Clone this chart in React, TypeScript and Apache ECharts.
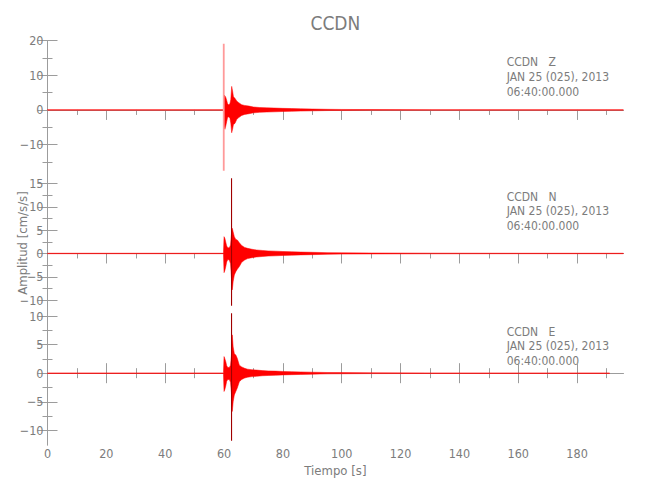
import React, { useEffect, useRef } from "react";
import * as echarts from "echarts";

// ---- data ----
const TIME_MAX = 195.7;
const xMajorTicks = [0, 20, 40, 60, 80, 100, 120, 140, 160, 180];
const xMinorTicks = [10, 30, 50, 70, 90, 110, 130, 150, 170, 190];

const stationName = "CCDN";
const componentNames = ["Z", "N", "E"];
const dateLine = "JAN 25 (025), 2013";
const timeLine = "06:40:00.000";
const xTitle = "Tiempo [s]";
const yTitle = "Amplitud [cm/s/s]";

// Z component envelope
const zTime = [0, 20, 40, 59.8, 60.0, 60.3, 60.6, 60.9, 61.2, 61.6, 62.0, 62.3, 62.6, 62.9, 63.2, 63.7, 64.3, 65.0, 66.0, 67.0, 68.5, 70.0, 72.0, 74.5, 77.0, 80.0, 83.0, 86.0, 90.0, 95.0, 100.0, 110.0, 130.0, 160.0, 195.7];
const zUpper = [0.06, 0.06, 0.06, 0.08, 4.3, 4.1, 3.6, 2.8, 1.8, 1.5, 1.8, 3.0, 6.8, 5.5, 3.8, 3.4, 2.6, 2.1, 1.5, 1.3, 1.1, 0.85, 0.7, 0.6, 0.55, 0.45, 0.4, 0.32, 0.26, 0.18, 0.14, 0.1, 0.07, 0.06, 0.06];
const zLower = [-0.06, -0.06, -0.06, -0.08, -4.8, -5.6, -4.6, -3.4, -2.2, -2.0, -2.4, -3.8, -6.6, -5.6, -4.2, -3.9, -2.8, -2.2, -1.6, -1.3, -1.1, -0.85, -0.7, -0.6, -0.55, -0.45, -0.4, -0.32, -0.26, -0.18, -0.14, -0.1, -0.07, -0.06, -0.06];
const zSpike = [59.9, 19.1, -17.6];
const zRange = [-18.8, 20];
const zMajor = [-10, 0, 10, 20];
const zMinor = [-15, -5, 5, 15];

// N component envelope
const nTime = [0, 30, 59.8, 60.0, 60.3, 60.6, 60.9, 61.3, 61.8, 62.2, 62.5, 62.8, 63.1, 63.5, 64.0, 64.5, 65.2, 66.0, 67.0, 68.0, 69.5, 71.0, 73.0, 75.0, 77.5, 80.0, 83.0, 86.0, 90.0, 95.0, 100.0, 110.0, 130.0, 160.0, 195.7];
const nUpper = [0.05, 0.05, 0.05, 3.6, 3.2, 2.4, 1.6, 1.2, 1.2, 1.8, 4.0, 5.4, 4.6, 3.6, 3.0, 2.9, 2.3, 1.7, 1.3, 1.1, 0.9, 0.75, 0.65, 0.55, 0.5, 0.42, 0.36, 0.3, 0.25, 0.18, 0.13, 0.1, 0.07, 0.05, 0.05];
const nLower = [-0.05, -0.05, -0.05, -4.1, -3.6, -2.8, -1.8, -1.3, -1.4, -2.2, -5.0, -7.8, -6.0, -4.6, -3.9, -3.4, -2.8, -1.9, -1.4, -1.1, -0.9, -0.75, -0.65, -0.55, -0.5, -0.42, -0.36, -0.3, -0.25, -0.18, -0.13, -0.1, -0.07, -0.05, -0.05];
const nSpike = [62.55, 16.1, -11.2];
const nRange = [-12.1, 16.8];
const nMajor = [-10, -5, 0, 5, 10, 15];
const nMinor = [-7.5, -2.5, 2.5, 7.5, 12.5];

// E component envelope
const eTime = [0, 30, 59.8, 60.0, 60.3, 60.6, 60.9, 61.3, 61.8, 62.2, 62.5, 62.8, 63.1, 63.5, 64.0, 64.5, 65.2, 66.0, 67.0, 68.0, 69.5, 71.0, 73.0, 75.0, 77.5, 80.0, 83.0, 86.0, 90.0, 95.0, 100.0, 110.0, 130.0, 160.0, 191.0];
const eUpper = [0.05, 0.05, 0.05, 2.9, 2.5, 2.0, 1.3, 1.0, 1.0, 1.4, 3.0, 6.7, 4.6, 3.4, 3.2, 2.6, 1.4, 1.1, 0.85, 0.7, 0.6, 0.55, 0.45, 0.4, 0.36, 0.3, 0.26, 0.22, 0.17, 0.12, 0.1, 0.07, 0.05, 0.05, 0.05];
const eLower = [-0.05, -0.05, -0.05, -3.2, -2.8, -2.2, -1.4, -1.1, -1.1, -1.6, -3.4, -6.7, -5.0, -3.8, -3.2, -2.6, -1.5, -1.1, -0.85, -0.7, -0.6, -0.55, -0.45, -0.4, -0.36, -0.3, -0.26, -0.22, -0.17, -0.12, -0.1, -0.07, -0.05, -0.05, -0.05];
const eSpike = [62.55, 10.5, -11.8];
const eRange = [-12.56, 11.05];
const eMajor = [-10, -5, 0, 5, 10];
const eMinor = [-7.5, -2.5, 2.5, 7.5];

// ---- styling / layout ----
const AXIS_COLOR = "#9c9c9c";
const LABEL_COLOR = "#7c7c7c";
const TRACE = "#ff0000";
const FONT = "'Liberation Sans Narrow', 'DejaVu Sans Condensed', 'Liberation Sans', sans-serif";
const GRID_LEFT = 47.5;
const GRID_RIGHT = 26.7;
const PANEL_TOPS = [40.7, 175, 310];
const PANEL_BOTTOMS = [175, 310, 445];

const panels = [
  { time: zTime, upper: zUpper, lower: zLower, spike: zSpike, range: zRange, major: zMajor, minor: zMinor, spikeColor: "#ff9a9a", spikeWidth: 1.8 },
  { time: nTime, upper: nUpper, lower: nLower, spike: nSpike, range: nRange, major: nMajor, minor: nMinor, spikeColor: "#a00000", spikeWidth: 1.1 },
  { time: eTime, upper: eUpper, lower: eLower, spike: eSpike, range: eRange, major: eMajor, minor: eMinor, spikeColor: "#a00000", spikeWidth: 1.1 },
];

const fmt = (v: number) => (v < 0 ? "\u2212" + String(-v) : String(v));

function buildOption() {
  const grid: any[] = [];
  const xAxis: any[] = [];
  const yAxis: any[] = [];
  const series: any[] = [];
  const graphic: any[] = [];

  panels.forEach((p, i) => {
    grid.push({
      left: GRID_LEFT,
      right: GRID_RIGHT,
      top: PANEL_TOPS[i],
      height: PANEL_BOTTOMS[i] - PANEL_TOPS[i],
      containLabel: false,
    });
    const isLast = i === panels.length - 1;
    const xBase = {
      type: "value",
      gridIndex: i,
      min: 0,
      max: TIME_MAX,
      splitLine: { show: false },
    };
    xAxis.push({
      ...xBase,
      position: "bottom",
      axisLine: { show: true, lineStyle: { color: AXIS_COLOR, width: 1 } },
      axisTick: { show: isLast, inside: true, length: 10, customValues: xMajorTicks, lineStyle: { color: AXIS_COLOR } },
      axisLabel: {
        show: isLast,
        customValues: xMajorTicks,
        color: LABEL_COLOR,
        fontFamily: FONT,
        fontSize: 12.5,
        margin: 2,
        formatter: (v: number) => fmt(v),
      },
    });
    xAxis.push({
      ...xBase,
      position: "bottom",
      axisLine: { show: false },
      axisTick: { show: isLast, inside: true, length: 5, customValues: xMinorTicks, lineStyle: { color: AXIS_COLOR } },
      axisLabel: { show: false },
    });
    xAxis.push({
      ...xBase,
      position: "top",
      axisLine: { show: true, lineStyle: { color: AXIS_COLOR, width: 1 } },
      axisTick: { show: true, inside: true, length: 10, customValues: xMajorTicks, lineStyle: { color: AXIS_COLOR } },
      axisLabel: { show: false },
    });
    xAxis.push({
      ...xBase,
      position: "top",
      axisLine: { show: false },
      axisTick: { show: true, inside: true, length: 5, customValues: xMinorTicks, lineStyle: { color: AXIS_COLOR } },
      axisLabel: { show: false },
    });

    const yBase = {
      type: "value",
      gridIndex: i,
      min: p.range[0],
      max: p.range[1],
      splitLine: { show: false },
    };
    yAxis.push({
      ...yBase,
      position: "left",
      axisLine: { show: true, lineStyle: { color: AXIS_COLOR, width: 1 } },
      axisTick: { show: true, inside: true, length: 10, customValues: p.major, lineStyle: { color: AXIS_COLOR } },
      axisLabel: {
        show: true,
        customValues: p.major,
        color: LABEL_COLOR,
        fontFamily: FONT,
        fontSize: 12.5,
        margin: 4,
        formatter: (v: number) => fmt(v),
      },
    });
    yAxis.push({
      ...yBase,
      position: "left",
      axisLine: { show: false },
      axisTick: { show: true, inside: true, length: 5, customValues: p.minor, lineStyle: { color: AXIS_COLOR } },
      axisLabel: { show: false },
    });
    yAxis.push({
      ...yBase,
      position: "right",
      axisLine: { show: true, lineStyle: { color: AXIS_COLOR, width: 1 } },
      axisTick: { show: true, inside: true, length: 10, customValues: p.major, lineStyle: { color: AXIS_COLOR } },
      axisLabel: { show: false },
    });
    yAxis.push({
      ...yBase,
      position: "right",
      axisLine: { show: false },
      axisTick: { show: true, inside: true, length: 5, customValues: p.minor, lineStyle: { color: AXIS_COLOR } },
      axisLabel: { show: false },
    });

    const xi = i * 4;
    const yi = i * 4;

    // envelope drawn as one filled polygon through the axis scales
    series.push({
      type: "custom",
      coordinateSystem: "cartesian2d",
      xAxisIndex: xi,
      yAxisIndex: yi,
      silent: true,
      clip: true,
      data: [0],
      renderItem: (_params: any, api: any) => {
        const pts: number[][] = [];
        for (let k = 0; k < p.time.length; k++) pts.push(api.coord([p.time[k], p.upper[k]]));
        for (let k = p.time.length - 1; k >= 0; k--) pts.push(api.coord([p.time[k], p.lower[k]]));
        return {
          type: "polygon",
          shape: { points: pts },
          style: { fill: TRACE, stroke: TRACE, lineWidth: 0.5 },
        };
      },
    });
    series.push({
      type: "line",
      xAxisIndex: xi,
      yAxisIndex: yi,
      symbol: "none",
      silent: true,
      lineStyle: { color: p.spikeColor, width: p.spikeWidth },
      data: [
        [p.spike[0], p.spike[1]],
        [p.spike[0], p.spike[2]],
      ],
    });

    const lines = [stationName + "   " + componentNames[i], dateLine, timeLine];
    lines.forEach((txt, k) => {
      graphic.push({
        type: "text",
        x: 506.7,
        y: PANEL_TOPS[i] + 21.5 + k * 14.8,
        silent: true,
        style: {
          text: txt,
          fill: LABEL_COLOR,
          fontFamily: FONT,
          fontSize: 12,
          textAlign: "left",
          textVerticalAlign: "middle",
        },
      });
    });
  });

  graphic.push({
    type: "text",
    x: 335.4,
    y: 22.7,
    silent: true,
    style: {
      text: stationName,
      fill: LABEL_COLOR,
      fontFamily: FONT,
      fontSize: 19,
      textAlign: "center",
      textVerticalAlign: "middle",
    },
  });
  graphic.push({
    type: "text",
    x: 335.4,
    y: 470,
    silent: true,
    style: {
      text: xTitle,
      fill: LABEL_COLOR,
      fontFamily: FONT,
      fontSize: 13,
      textAlign: "center",
      textVerticalAlign: "middle",
    },
  });
  graphic.push({
    type: "text",
    x: 22,
    y: 243,
    rotation: Math.PI / 2,
    silent: true,
    style: {
      text: yTitle,
      fill: LABEL_COLOR,
      fontFamily: FONT,
      fontSize: 13,
      textAlign: "center",
      textVerticalAlign: "middle",
    },
  });

  return {
    animation: false,
    backgroundColor: "#ffffff",
    grid,
    xAxis,
    yAxis,
    series,
    graphic,
  };
}

export default function App() {
  const ref = useRef<HTMLDivElement>(null);
  useEffect(() => {
    if (!ref.current) return;
    const chart = echarts.init(ref.current, null, { renderer: "svg" });
    chart.setOption(buildOption() as any);
    return () => {
      chart.dispose();
    };
  }, []);
  return (
    <div
      ref={ref}
      style={{ position: "fixed", left: 0, top: 0, width: 650, height: 500, background: "#fff" }}
    />
  );
}
